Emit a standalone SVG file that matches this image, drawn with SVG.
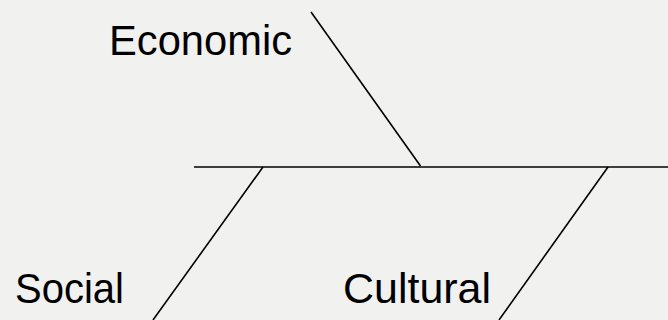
<svg xmlns="http://www.w3.org/2000/svg" width="668" height="320" viewBox="0 0 668 320">
<style>
.lbl{font-family:"Liberation Sans",Arial,sans-serif;font-size:42.5px;fill:#000}
.ln{stroke:#000;stroke-width:1.6;fill:none}
</style>
<rect x="0" y="0" width="668" height="320" fill="#f1f1f0"/>
<g id="connectors">
<line class="ln" x1="194" y1="167" x2="668" y2="167" stroke-width="2"/>
<line class="ln" x1="311" y1="12" x2="420.5" y2="166"/>
<line class="ln" x1="263" y1="167" x2="153" y2="320"/>
<line class="ln" x1="608" y1="167" x2="499" y2="320"/>
</g>
<g id="economic"><text class="lbl" x="109" y="55" textLength="183" lengthAdjust="spacingAndGlyphs">Economic</text></g>
<g id="social"><text class="lbl" x="15" y="302.5" textLength="109" lengthAdjust="spacingAndGlyphs">Social</text></g>
<g id="cultural"><text class="lbl" x="343" y="302.5" textLength="148" lengthAdjust="spacingAndGlyphs">Cultural</text></g>
</svg>
